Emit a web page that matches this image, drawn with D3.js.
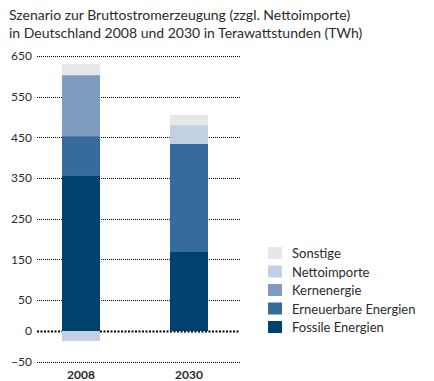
<!DOCTYPE html>
<html><head><meta charset="utf-8">
<script src="https://cdn.jsdelivr.net/npm/d3@7"></script>
<style>body{margin:0;background:#fff}svg{display:block}text{font-family:Lato,"Open Sans",sans-serif;fill:#2b2b2b}</style>
</head><body><svg id="c" width="434" height="381"></svg>
<script>
const years = ["2008", "2030"];
const seriesNames = ["Fossile Energien", "Erneuerbare Energien", "Kernenergie", "Nettoimporte", "Sonstige"];
const fossile = [355, 168];
const erneuerbare = [98, 266];
const kern = [150, 0];
const netto = [-16, 46];
const sonstige = [27, 25];
const tickValues = [650, 550, 450, 350, 250, 150, 50, 0, -50];
const colors = ["#00426f", "#366b9d", "#7f9cc0", "#c3cfe2", "#e6e7e8"];
const seriesValues = [fossile, erneuerbare, kern, netto, sonstige];

const svg = d3.select("#c");
svg.append("text").attr("x", 9).attr("y", 20).style("font-size", "14px").text("Szenario zur Bruttostromerzeugung (zzgl. Nettoimporte)");
svg.append("text").attr("x", 9).attr("y", 38).style("font-size", "14px").text("in Deutschland 2008 und 2030 in Terawattstunden (TWh)");

// piecewise scale matching the original's uneven axis
const y = d3.scaleLinear().domain([-50, 0, 50, 650]).range([362, 331, 300, 56]);
const x = d3.scaleBand().domain(years).range([62, 208]).paddingInner(0.648).paddingOuter(0);

// grid
tickValues.forEach(v => {
  const zero = v === 0;
  svg.append("line").attr("x1", 37).attr("x2", 240).attr("y1", Math.round(y(v)) + 0.5).attr("y2", Math.round(y(v)) + 0.5)
    .attr("stroke", "#000").attr("stroke-width", zero ? 2 : 1).attr("stroke-dasharray", zero ? "2,1.5" : "1,1");
});
const yAxis = svg.append("g").attr("transform", "translate(32,0)")
  .call(d3.axisLeft(y).tickValues(tickValues).tickSize(0).tickPadding(0));
yAxis.select(".domain").remove();
yAxis.selectAll("text").style("font-size", "12px").attr("fill", "#2b2b2b").style("font-family", "Lato,'Open Sans',sans-serif");

// bars
years.forEach((yr, i) => {
  let pos = 0;
  seriesValues.forEach((s, k) => {
    const v = s[i];
    if (v === 0) return;
    let y0, y1;
    if (v < 0) { y0 = 0; y1 = v; }
    else { y0 = pos; y1 = pos + v; pos += v; }
    svg.append("rect").attr("x", x(yr)).attr("width", x.bandwidth())
      .attr("y", y(Math.max(y0, y1))).attr("height", y(Math.min(y0, y1)) - y(Math.max(y0, y1)))
      .attr("fill", colors[k]);
  });
  svg.append("text").attr("x", x(yr) + x.bandwidth() / 2).attr("y", 379).attr("text-anchor", "middle")
    .style("font-size", "12px").style("font-weight", "bold").text(yr);
});

// legend
const legendOrder = [4, 3, 2, 1, 0];
legendOrder.forEach((k, j) => {
  const ly = 247 + j * 18.5;
  svg.append("rect").attr("x", 268).attr("y", ly).attr("width", 14).attr("height", 12).attr("fill", colors[k]);
  svg.append("text").attr("x", 292).attr("y", ly + 11).style("font-size", "13px").text(seriesNames[k]);
});
</script></body></html>
